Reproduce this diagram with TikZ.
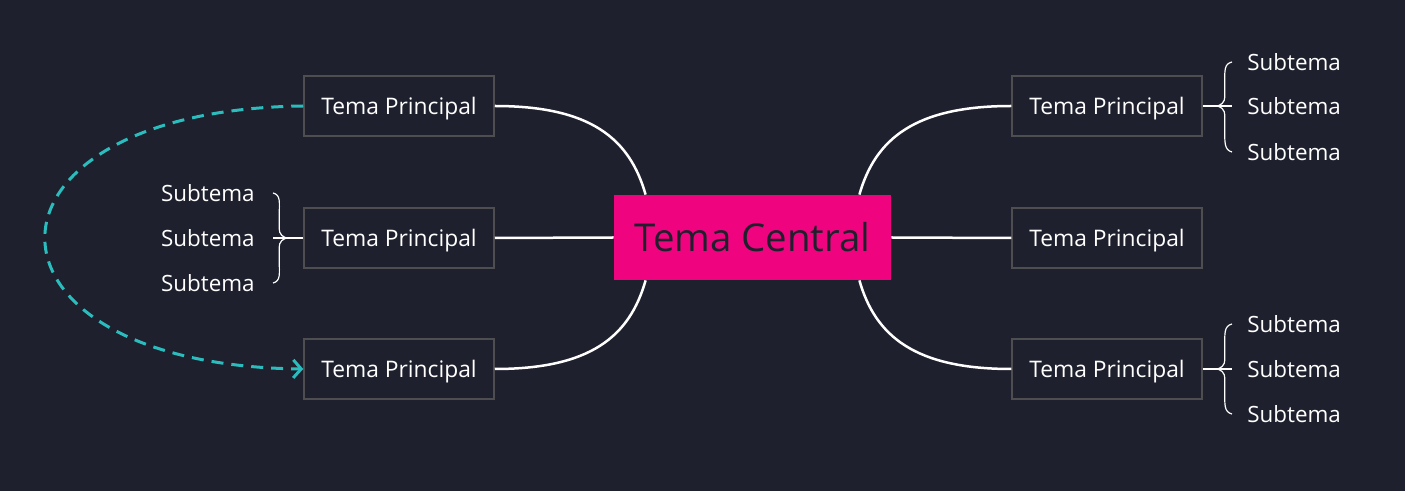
\documentclass[tikz,border=0pt]{standalone}
\usepackage{fontspec}
\setmainfont{Open Sans}
\usetikzlibrary{arrows.meta, calc}

\definecolor{bgnavy}{HTML}{1E202D}
\definecolor{hotpink}{HTML}{F0037F}
\definecolor{boxline}{HTML}{4E4E50}
\definecolor{linkteal}{HTML}{2BBDBD}

\begin{document}
\begin{tikzpicture}[x=0.5pt, y=-0.5pt,
  central/.style={rectangle, fill=hotpink, text=bgnavy, minimum width=138.5pt,
                  minimum height=42.5pt, inner sep=0pt, font=\fontsize{19.2}{22}\selectfont},
  topic/.style={rectangle, draw=boxline, line width=0.75pt, fill=bgnavy, text=white,
                minimum width=95pt, minimum height=30pt, inner sep=0pt,
                text height=11pt, text depth=2.6pt,
                font=\fontsize{11.4}{13}\selectfont},
  subtopic/.style={text=white, inner ysep=0pt, font=\fontsize{11.2}{13}\selectfont},
  branch/.style={white, line width=1.25pt},
  brace/.style={white, line width=0.6pt},
  link/.style={linkteal, line width=1.5pt, dash pattern=on 6pt off 4pt,
               -{Straight Barb[length=4pt, width=9pt]}},
]

%% CANVAS
\fill[bgnavy] (0,0) rectangle (1405,491);
\useasboundingbox (0,0) rectangle (1405,491);

%% CENTRE AND MAIN TOPICS
\node[central] (c)  at (752.5,237.5) {Tema Central};
\node[topic]   (l1) at (399,106) {Tema Principal};
\node[topic]   (l2) at (399,238) {Tema Principal};
\node[topic]   (l3) at (399,369) {Tema Principal};
\node[topic]   (r1) at (1107,106) {Tema Principal};
\node[topic]   (r2) at (1107,238) {Tema Principal};
\node[topic]   (r3) at (1107,369) {Tema Principal};

%% SUBTOPICS
\node[subtopic, anchor=east, inner xsep=9pt] (ls1) at (273,193) {Subtema};
\node[subtopic, anchor=east, inner xsep=9pt] (ls2) at (273,238) {Subtema};
\node[subtopic, anchor=east, inner xsep=9pt] (ls3) at (273,283) {Subtema};
\node[subtopic, anchor=west, inner xsep=7.5pt] (ts1) at (1232,62)  {Subtema};
\node[subtopic, anchor=west, inner xsep=7.5pt] (ts2) at (1232,106) {Subtema};
\node[subtopic, anchor=west, inner xsep=7.5pt] (ts3) at (1232,152) {Subtema};
\node[subtopic, anchor=west, inner xsep=7.5pt] (bs1) at (1232,324) {Subtema};
\node[subtopic, anchor=west, inner xsep=7.5pt] (bs2) at (1232,369) {Subtema};
\node[subtopic, anchor=west, inner xsep=7.5pt] (bs3) at (1232,414) {Subtema};

\coordinate (ltip) at ($(l2.west)+(-17,0)$);
\coordinate (ttip) at ($(r1.east)+(15,0)$);
\coordinate (btip) at ($(r3.east)+(15,0)$);

%% BRANCHES
\draw[branch] (l1.east) .. controls +(96,0) and +(-16,-56) .. ($(c.north west)+(32,0)$);
\draw[branch] (l2.east) -- (c.west);
\draw[branch] (l3.east) .. controls +(96,0) and +(-16,56) .. ($(c.south west)+(32,0)$);
\draw[branch] (r1.west) .. controls +(-96,0) and +(16,-56) .. ($(c.north east)+(-32,0)$);
\draw[branch] (c.east) -- (r2.west);
\draw[branch] (r3.west) .. controls +(-96,0) and +(16,56) .. ($(c.south east)+(-32,0)$);

%% BRACES
\draw[brace] (l2.west) -- (ls2.east);
\draw[brace] (ltip) .. controls +(-8,-4) and +(0,18) .. ++(-7,-22) .. controls +(0,-14) and +(8,2) .. (ls1.east);
\draw[brace] (ltip) .. controls +(-8,4) and +(0,-18) .. ++(-7,22) .. controls +(0,14) and +(8,-2) .. (ls3.east);

\draw[brace] (r1.east) -- (ts2.west);
\draw[brace] (ttip) .. controls +(8,-4) and +(0,18) .. ++(7,-22) .. controls +(0,-14) and +(-8,2) .. (ts1.west);
\draw[brace] (ttip) .. controls +(8,4) and +(0,-18) .. ++(7,22) .. controls +(0,14) and +(-8,-2) .. (ts3.west);

\draw[brace] (r3.east) -- (bs2.west);
\draw[brace] (btip) .. controls +(8,-4) and +(0,18) .. ++(7,-22) .. controls +(0,-14) and +(-8,2) .. (bs1.west);
\draw[brace] (btip) .. controls +(8,4) and +(0,-18) .. ++(7,22) .. controls +(0,14) and +(-8,-2) .. (bs3.west);

%% LINK
\draw[link] (l1.west) .. controls +(-344,4) and +(-344,-4) .. (l3.west);
\end{tikzpicture}
\end{document}
